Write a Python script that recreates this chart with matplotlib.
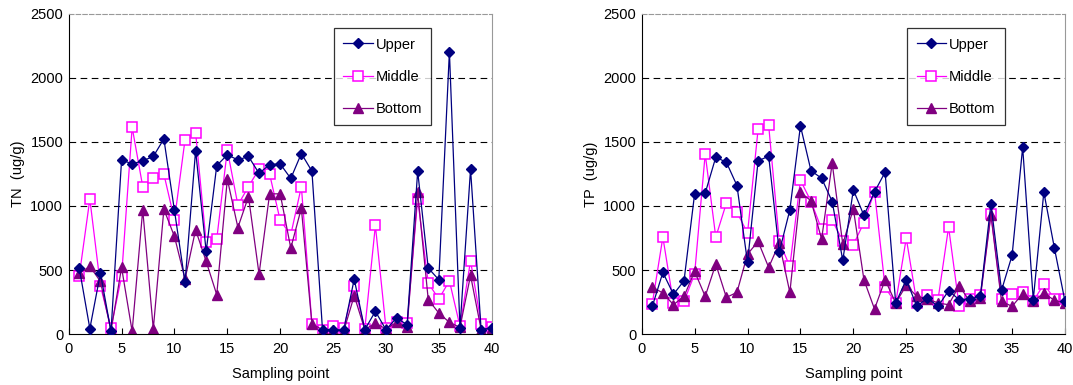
import matplotlib
matplotlib.use('Agg')
import matplotlib.pyplot as plt

points = list(range(1, 41))

tn_upper = [515, 42, 476, 20, 1360, 1329, 1353, 1387, 1524, 965,
            403, 1433, 645, 1316, 1400, 1360, 1387, 1255, 1324, 1329,
            1215, 1410, 1272, 34, 34, 30, 429, 34, 177, 34,
            125, 73, 1272, 515, 424, 2206, 47, 1288, 34, 47]
tn_middle = [455, 1054, 377, 47, 450, 1615, 1152, 1215, 1249, 892,
             1517, 1574, 715, 741, 1439, 1007, 1152, 1288, 1249, 887,
             775, 1152, 81, 34, 60, 47, 377, 39, 848, 47,
             91, 86, 1056, 398, 273, 416, 60, 572, 81, 55]
tn_bottom = [476, 528, 411, 26, 520, 21, 970, 39, 975, 762,
             429, 814, 567, 307, 1210, 832, 1074, 468, 1095, 1095,
             671, 983, 78, 34, 34, 21, 299, 34, 86, 39,
             91, 52, 1106, 268, 164, 91, 52, 458, 34, 47]

tp_upper = [215, 481, 310, 416, 1095, 1100, 1381, 1342, 1160, 559,
            1353, 1389, 640, 970, 1626, 1275, 1217, 1035, 575, 1126,
            926, 1110, 1264, 242, 424, 216, 281, 216, 338, 268,
            273, 294, 1017, 341, 614, 1459, 268, 1108, 671, 255]
tp_middle = [237, 757, 242, 255, 468, 1407, 757, 1022, 952, 788,
             1600, 1629, 723, 528, 1202, 1035, 819, 887, 728, 697,
             871, 1113, 364, 242, 749, 242, 302, 268, 835, 216,
             276, 302, 937, 276, 312, 325, 255, 390, 276, 276]
tp_bottom = [367, 320, 229, 294, 489, 294, 546, 286, 325, 624,
             723, 520, 710, 325, 1106, 1041, 741, 1335, 702, 978,
             424, 195, 424, 242, 380, 294, 276, 242, 229, 377,
             255, 281, 931, 255, 216, 315, 255, 320, 263, 242]

plt.rcParams['font.family'] = ['Liberation Sans', 'DejaVu Sans']

fig = plt.figure(figsize=(10.73, 3.85), dpi=100)
W, H = 1073, 385
ax1 = fig.add_axes([68.7 / W, 1 - 334 / H, 423 / W, 320 / H])
ax2 = fig.add_axes([641.7 / W, 1 - 334 / H, 423.3 / W, 320 / H])


def draw(ax, upper, middle, bottom, ylabel):
    ax.plot(points, upper, color='#000080', marker='D', markersize=5.3,
            linewidth=0.9, label='Upper', zorder=3)
    ax.plot(points, middle, color='#FF00FF', marker='s', markersize=7.2,
            markerfacecolor='white', markeredgewidth=1.1,
            linewidth=0.9, label='Middle', zorder=2)
    ax.plot(points, bottom, color='#800080', marker='^', markersize=7.2,
            linewidth=0.9, label='Bottom', zorder=2.5)
    ax.set_xlim(0, 40)
    ax.set_ylim(0, 2500)
    ax.set_xticks(range(0, 41, 5))
    ax.set_yticks(range(0, 2501, 500))
    for v in [500, 1000, 1500, 2000]:
        ax.axhline(v, color='black', linestyle=(0, (6, 4)), linewidth=0.8, zorder=1)
    ax.spines['top'].set_color('#999999')
    ax.spines['top'].set_linestyle((0, (4, 2)))
    ax.spines['right'].set_color('#999999')
    ax.spines['left'].set_color('black')
    ax.spines['bottom'].set_color('black')
    ax.tick_params(axis='x', direction='in', length=4, labelsize=10.5, pad=6)
    ax.tick_params(axis='y', direction='out', length=0, labelsize=10.5, pad=4)
    ax.set_xlabel('Sampling point', fontsize=10.5, labelpad=8)
    ax.set_ylabel(ylabel, fontsize=10.5, labelpad=4)
    leg = ax.legend(loc='upper left', bbox_to_anchor=(0.627, 0.956),
                    fontsize=10.5, frameon=True, fancybox=False,
                    edgecolor='black', handlelength=2.0, labelspacing=1.25,
                    borderpad=0.65, handletextpad=0.2, borderaxespad=0)
    leg.get_frame().set_linewidth(0.9)


draw(ax1, tn_upper, tn_middle, tn_bottom, 'TN  (ug/g)')
draw(ax2, tp_upper, tp_middle, tp_bottom, 'TP  (ug/g)')

fig.savefig('out.png', dpi=100)
